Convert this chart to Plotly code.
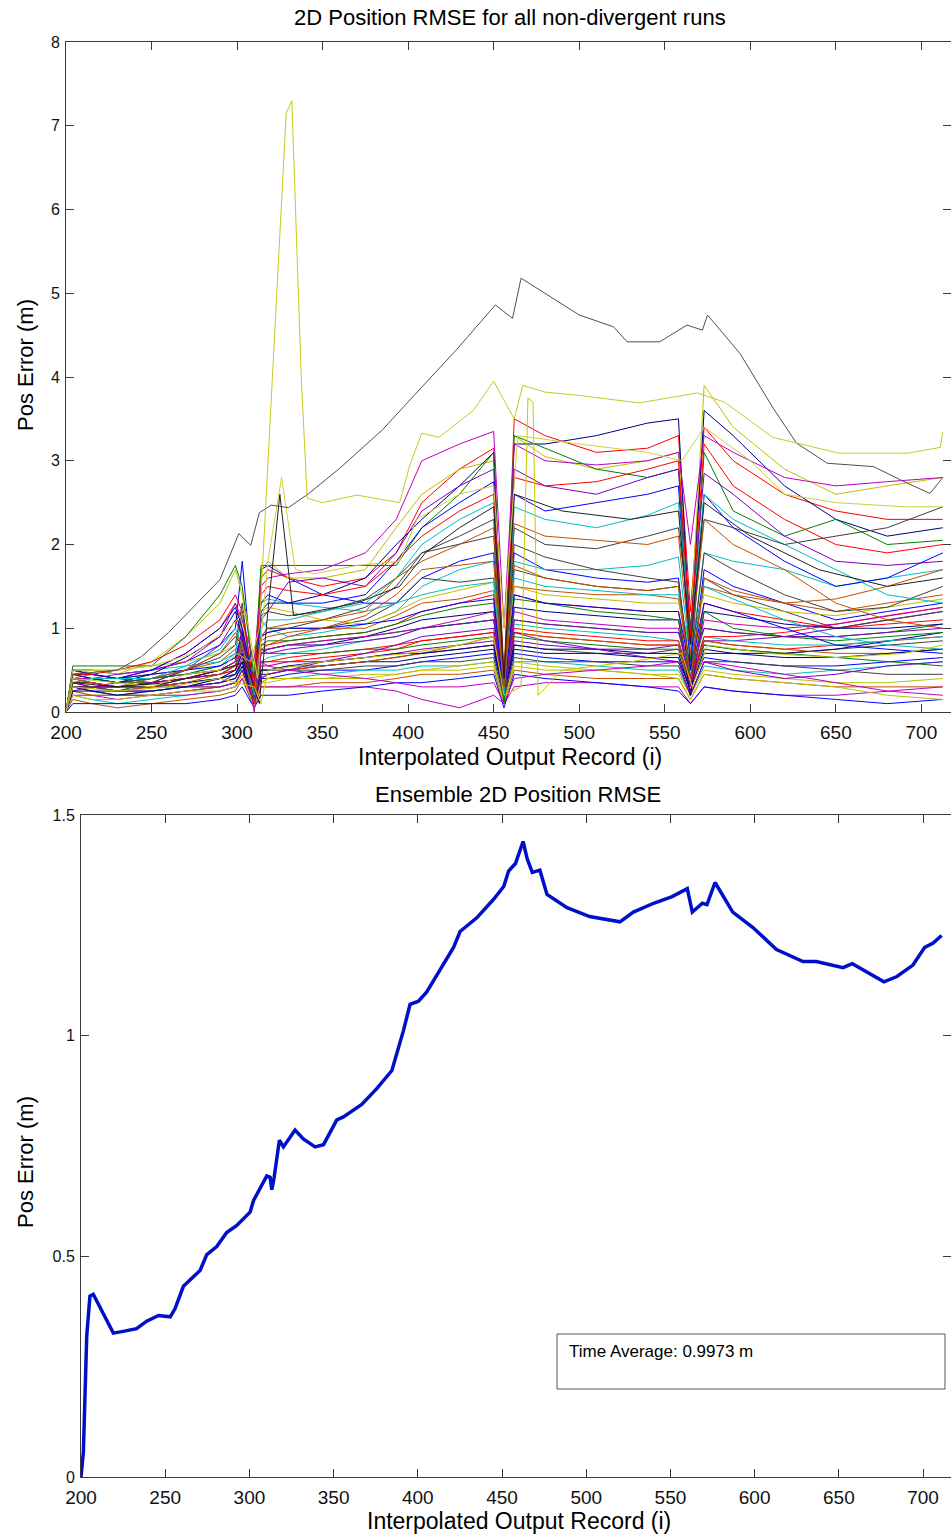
import plotly.graph_objects as go

W, H = 951, 1537

# ---------------- data: top panel (per-run 2D position RMSE) ----------------
GRID_X = [200, 204, 215, 230, 250, 270, 290, 299, 303, 310, 314, 318, 330, 350, 375, 393,
          408, 430, 450, 456, 462, 480, 510, 540, 558, 565, 573, 590, 620, 650, 680, 712.5]

HIGH_RUNS = [
    [0, 0.5, 0.45, 0.4, 0.5, 0.7, 1.0, 1.3, 1.0, 0.3, 1.6, 1.7, 1.6, 1.5, 1.6, 1.9, 2.5, 2.9, 3.15, 0.3, 3.5, 3.3, 3.1, 3.15, 3.3, 1.2, 3.4, 3.0, 2.6, 2.4, 2.3, 2.3],
    [0, 0.45, 0.5, 0.45, 0.6, 0.9, 1.3, 1.7, 1.4, 0.5, 1.7, 1.8, 1.6, 1.6, 1.7, 2.2, 2.6, 2.9, 3.0, 0.5, 3.3, 3.05, 2.9, 3.0, 3.1, 1.0, 3.9, 3.4, 2.9, 2.6, 2.7, 2.8],
    [0, 0.4, 0.4, 0.35, 0.45, 0.65, 0.9, 1.2, 0.9, 0.2, 1.2, 1.3, 1.3, 1.4, 1.6, 2.0, 2.3, 2.7, 3.1, 0.2, 3.2, 3.2, 3.3, 3.45, 3.5, 0.8, 3.6, 3.3, 2.7, 2.3, 2.1, 2.2],
    [0, 0.55, 0.55, 0.55, 0.55, 0.9, 1.4, 1.75, 1.5, 0.4, 1.75, 1.75, 1.75, 1.75, 1.75, 1.75, 2.2, 2.6, 3.1, 0.3, 3.3, 3.15, 2.9, 2.8, 2.9, 0.6, 3.1, 2.4, 2.1, 2.3, 2.0, 2.05],
    [0, 0.4, 0.4, 0.45, 0.5, 0.6, 0.9, 1.3, 1.1, 0.6, 1.5, 1.6, 1.65, 1.7, 1.9, 2.3, 3.0, 3.2, 3.35, 1.0, 3.2, 3.0, 2.95, 3.0, 3.1, 2.0, 3.3, 3.1, 2.8, 2.7, 2.75, 2.8],
    [0, 0.3, 0.3, 0.3, 0.35, 0.5, 0.8, 1.1, 0.9, 0.3, 1.1, 1.2, 1.55, 1.6, 1.5, 1.9, 2.4, 2.7, 2.9, 0.4, 2.9, 2.7, 2.6, 2.8, 2.9, 1.0, 2.85, 2.6, 2.1, 1.8, 1.75, 1.8],
    [0, 0.5, 0.45, 0.4, 0.5, 0.7, 1.0, 1.25, 1.0, 0.3, 1.3, 1.4, 1.3, 1.3, 1.4, 1.8, 2.2, 2.5, 2.75, 0.3, 2.6, 2.4, 2.5, 2.6, 2.7, 0.5, 2.6, 2.2, 1.8, 1.5, 1.6, 1.9],
    [0, 0.35, 0.4, 0.4, 0.4, 0.55, 0.75, 1.0, 0.8, 0.2, 1.0, 1.1, 1.1, 1.2, 1.3, 1.6, 2.0, 2.3, 2.5, 0.2, 2.45, 2.3, 2.2, 2.35, 2.5, 0.9, 2.6, 2.3, 2.0, 1.7, 1.4, 1.3],
    [0, 0.3, 0.3, 0.25, 0.35, 0.5, 0.7, 0.9, 0.8, 0.4, 0.9, 1.0, 1.0, 1.1, 1.25, 1.5, 1.9, 2.1, 2.3, 0.3, 2.2, 2.0, 1.95, 2.1, 2.2, 1.0, 2.3, 2.2, 2.0, 2.1, 2.2, 2.45],
    [0, 0.4, 0.35, 0.3, 0.4, 0.5, 0.7, 0.95, 0.8, 0.25, 0.9, 1.0, 1.05, 1.1, 1.2, 1.6, 1.8, 2.0, 2.2, 0.3, 2.25, 2.1, 2.05, 2.0, 2.1, 0.7, 2.3, 2.0, 1.7, 1.3, 1.1, 1.0],
    [0, 0.45, 0.45, 0.5, 0.6, 0.8, 1.1, 1.4, 1.2, 0.3, 1.4, 1.5, 1.45, 1.4, 1.5, 1.8, 2.1, 2.4, 2.6, 0.4, 2.8, 2.7, 2.75, 2.9, 3.0, 0.9, 3.2, 2.7, 2.3, 2.0, 1.9, 2.0],
]

MID_RUNS = [
    [0, 0.5, 0.5, 0.45, 0.5, 0.6, 0.8, 1.0, 1.8, 0.2, 1.7, 1.75, 1.6, 1.4, 1.3, 1.3, 1.6, 1.8, 1.9, 0.3, 1.9, 1.7, 1.6, 1.55, 1.6, 0.4, 1.7, 1.5, 1.3, 1.1, 1.2, 1.3],
    [0, 0.45, 0.4, 0.35, 0.4, 0.45, 0.55, 0.7, 1.2, 0.2, 1.1, 1.0, 0.9, 0.95, 1.05, 1.2, 1.5, 1.7, 1.8, 0.2, 1.8, 1.7, 1.7, 1.75, 1.85, 0.6, 1.9, 1.8, 1.7, 1.5, 1.6, 1.7],
    [0, 0.35, 0.35, 0.3, 0.3, 0.4, 0.5, 0.6, 0.9, 0.1, 0.9, 0.95, 1.0, 1.0, 1.1, 1.3, 1.6, 1.55, 1.6, 0.2, 1.7, 1.6, 1.5, 1.45, 1.5, 0.3, 1.6, 1.4, 1.2, 1.0, 1.1, 1.2],
    [0, 0.4, 0.45, 0.4, 0.45, 0.5, 0.6, 0.75, 0.85, 0.3, 0.85, 0.9, 0.95, 1.0, 1.0, 1.15, 1.3, 1.35, 1.45, 0.1, 1.5, 1.45, 1.4, 1.4, 1.35, 0.5, 1.5, 1.4, 1.3, 1.2, 1.3, 1.4],
    [0, 0.3, 0.3, 0.3, 0.35, 0.4, 0.5, 0.6, 1.0, 0.2, 0.8, 0.8, 0.85, 0.9, 0.95, 1.05, 1.2, 1.3, 1.4, 0.3, 1.4, 1.3, 1.25, 1.2, 1.2, 0.3, 1.3, 1.2, 1.1, 1.0, 1.05, 1.1],
    [0, 0.5, 0.5, 0.5, 0.55, 0.6, 0.7, 0.8, 1.1, 0.3, 1.2, 1.25, 1.2, 1.1, 1.05, 1.2, 1.35, 1.45, 1.55, 0.4, 1.5, 1.4, 1.35, 1.3, 1.3, 0.8, 1.4, 1.3, 1.2, 1.15, 1.25, 1.35],
    [0, 0.25, 0.25, 0.2, 0.25, 0.3, 0.4, 0.5, 0.7, 0.1, 0.7, 0.75, 0.8, 0.8, 0.9, 1.0, 1.1, 1.15, 1.2, 0.2, 1.25, 1.2, 1.15, 1.1, 1.1, 0.2, 1.2, 1.15, 1.05, 1.0, 1.0, 1.05],
    [0, 0.35, 0.4, 0.35, 0.4, 0.45, 0.55, 0.65, 0.8, 0.2, 0.8, 0.85, 0.85, 0.9, 0.95, 1.05, 1.15, 1.25, 1.3, 0.1, 1.35, 1.3, 1.2, 1.15, 1.1, 0.4, 1.2, 1.0, 0.9, 0.85, 0.9, 0.95],
    [0, 0.4, 0.35, 0.3, 0.35, 0.4, 0.5, 0.6, 0.9, 0.0, 0.7, 0.75, 0.8, 0.85, 0.9, 0.95, 1.0, 1.1, 1.2, 0.2, 1.2, 1.1, 1.05, 1.0, 1.0, 0.3, 1.1, 1.05, 1.0, 1.05, 1.15, 1.25],
    [0, 0.3, 0.3, 0.3, 0.35, 0.4, 0.45, 0.55, 0.75, 0.15, 0.75, 0.7, 0.75, 0.8, 0.85, 0.9, 1.0, 1.05, 1.1, 0.3, 1.1, 1.05, 1.0, 0.95, 0.95, 0.6, 1.0, 0.95, 0.9, 0.9, 0.95, 1.0],
    [0, 0.45, 0.4, 0.4, 0.45, 0.5, 0.55, 0.65, 0.95, 0.1, 0.9, 0.95, 1.0, 1.0, 1.05, 1.1, 1.2, 1.3, 1.35, 0.2, 1.4, 1.3, 1.25, 1.2, 1.2, 0.5, 1.3, 1.2, 1.0, 0.8, 0.75, 0.7],
    [0, 0.5, 0.5, 0.45, 0.5, 0.55, 0.6, 0.7, 1.2, 0.2, 1.3, 1.35, 1.3, 1.25, 1.2, 1.3, 1.4, 1.5, 1.55, 0.3, 1.6, 1.5, 1.45, 1.4, 1.4, 0.7, 1.5, 1.35, 1.1, 0.9, 0.8, 0.75],
    [0, 0.4, 0.4, 0.35, 0.4, 0.5, 0.65, 0.8, 1.3, 0.2, 1.15, 1.2, 1.15, 1.2, 1.35, 1.6, 1.9, 2.0, 2.1, 0.3, 2.0, 1.85, 1.7, 1.6, 1.55, 0.5, 1.9, 1.7, 1.4, 1.2, 1.25, 1.5],
    [0, 0.3, 0.3, 0.25, 0.3, 0.35, 0.45, 0.55, 0.8, 0.1, 0.75, 0.8, 0.9, 1.0, 1.15, 1.4, 1.7, 1.75, 1.8, 0.2, 1.75, 1.6, 1.5, 1.45, 1.5, 0.4, 1.6, 1.45, 1.3, 1.35, 1.5, 1.7],
]

LOW_RUNS = [
    [0, 0.3, 0.25, 0.2, 0.2, 0.25, 0.3, 0.35, 0.5, 0.1, 0.4, 0.4, 0.45, 0.5, 0.5, 0.55, 0.6, 0.65, 0.7, 0.2, 0.7, 0.65, 0.6, 0.6, 0.6, 0.3, 0.65, 0.6, 0.55, 0.55, 0.6, 0.65],
    [0, 0.2, 0.15, 0.1, 0.15, 0.2, 0.25, 0.3, 0.55, 0.05, 0.35, 0.4, 0.4, 0.45, 0.5, 0.5, 0.55, 0.55, 0.6, 0.1, 0.6, 0.6, 0.55, 0.5, 0.5, 0.2, 0.55, 0.5, 0.45, 0.5, 0.55, 0.6],
    [0, 0.4, 0.35, 0.3, 0.3, 0.3, 0.35, 0.4, 0.6, 0.2, 0.5, 0.5, 0.55, 0.55, 0.6, 0.65, 0.7, 0.75, 0.8, 0.3, 0.8, 0.75, 0.7, 0.7, 0.75, 0.4, 0.8, 0.75, 0.7, 0.75, 0.8, 0.85],
    [0, 0.15, 0.1, 0.05, 0.1, 0.15, 0.2, 0.25, 0.4, 0.05, 0.3, 0.3, 0.3, 0.35, 0.35, 0.4, 0.45, 0.45, 0.5, 0.1, 0.5, 0.45, 0.4, 0.4, 0.4, 0.15, 0.45, 0.4, 0.35, 0.3, 0.3, 0.3],
    [0, 0.35, 0.3, 0.3, 0.35, 0.4, 0.45, 0.5, 0.7, 0.15, 0.6, 0.6, 0.65, 0.7, 0.75, 0.8, 0.85, 0.9, 0.95, 0.2, 0.95, 0.9, 0.85, 0.8, 0.8, 0.3, 0.85, 0.8, 0.75, 0.8, 0.85, 0.9],
    [0, 0.25, 0.2, 0.2, 0.25, 0.3, 0.3, 0.35, 0.45, 0.1, 0.35, 0.35, 0.4, 0.4, 0.45, 0.45, 0.5, 0.5, 0.55, 0.1, 0.55, 0.5, 0.5, 0.45, 0.45, 0.2, 0.5, 0.45, 0.4, 0.35, 0.35, 0.4],
    [0, 0.3, 0.3, 0.25, 0.25, 0.3, 0.35, 0.4, 0.55, 0.1, 0.45, 0.45, 0.5, 0.55, 0.6, 0.6, 0.65, 0.7, 0.75, 0.2, 0.75, 0.7, 0.7, 0.65, 0.65, 0.25, 0.7, 0.7, 0.7, 0.75, 0.85, 0.95],
    [0, 0.45, 0.4, 0.35, 0.35, 0.4, 0.45, 0.55, 0.8, 0.2, 0.7, 0.7, 0.7, 0.7, 0.75, 0.75, 0.8, 0.85, 0.9, 0.2, 0.9, 0.85, 0.8, 0.75, 0.75, 0.3, 0.8, 0.75, 0.7, 0.65, 0.6, 0.55],
    [0, 0.2, 0.2, 0.15, 0.2, 0.2, 0.25, 0.3, 0.4, 0.05, 0.3, 0.3, 0.3, 0.3, 0.3, 0.25, 0.15, 0.05, 0.2, 0.1, 0.3, 0.35, 0.35, 0.3, 0.3, 0.1, 0.3, 0.25, 0.2, 0.2, 0.25, 0.3],
    [0, 0.35, 0.3, 0.25, 0.25, 0.3, 0.35, 0.45, 0.65, 0.1, 0.55, 0.55, 0.6, 0.6, 0.65, 0.7, 0.75, 0.8, 0.85, 0.15, 0.85, 0.8, 0.75, 0.75, 0.8, 0.35, 0.85, 0.85, 0.9, 1.0, 1.1, 1.2],
    [0, 0.1, 0.1, 0.1, 0.1, 0.1, 0.15, 0.2, 0.3, 0.05, 0.2, 0.2, 0.2, 0.25, 0.3, 0.35, 0.35, 0.4, 0.45, 0.05, 0.45, 0.4, 0.35, 0.3, 0.25, 0.1, 0.3, 0.25, 0.2, 0.15, 0.1, 0.15],
    [0, 0.3, 0.25, 0.2, 0.25, 0.3, 0.4, 0.5, 0.75, 0.15, 0.6, 0.65, 0.7, 0.75, 0.85, 0.9, 1.0, 1.05, 1.1, 0.2, 1.05, 1.0, 0.95, 0.9, 0.85, 0.4, 0.9, 0.85, 0.8, 0.8, 0.85, 0.9],
    [0, 0.4, 0.35, 0.3, 0.3, 0.35, 0.4, 0.45, 0.6, 0.1, 0.5, 0.5, 0.5, 0.5, 0.55, 0.55, 0.6, 0.6, 0.65, 0.15, 0.65, 0.6, 0.6, 0.55, 0.55, 0.2, 0.6, 0.6, 0.55, 0.5, 0.45, 0.45],
    [0, 0.25, 0.2, 0.2, 0.2, 0.25, 0.3, 0.35, 0.5, 0.1, 0.4, 0.45, 0.5, 0.55, 0.6, 0.65, 0.7, 0.8, 0.9, 0.15, 0.95, 0.9, 0.85, 0.8, 0.8, 0.25, 0.85, 0.8, 0.75, 0.7, 0.7, 0.75],
    [0, 0.35, 0.35, 0.3, 0.35, 0.4, 0.45, 0.5, 0.7, 0.15, 0.6, 0.6, 0.6, 0.65, 0.7, 0.75, 0.85, 0.9, 0.95, 0.3, 1.0, 0.95, 0.9, 0.85, 0.85, 0.35, 0.9, 0.9, 0.95, 1.05, 1.15, 1.25],
    [0, 0.2, 0.15, 0.15, 0.2, 0.25, 0.25, 0.3, 0.45, 0.05, 0.35, 0.4, 0.4, 0.4, 0.4, 0.45, 0.5, 0.55, 0.6, 0.1, 0.6, 0.55, 0.5, 0.45, 0.4, 0.15, 0.45, 0.4, 0.35, 0.3, 0.2, 0.15],
    [0, 0.3, 0.25, 0.25, 0.3, 0.35, 0.4, 0.45, 0.6, 0.1, 0.5, 0.5, 0.55, 0.6, 0.65, 0.7, 0.7, 0.75, 0.8, 0.2, 0.8, 0.75, 0.75, 0.7, 0.7, 0.25, 0.75, 0.7, 0.65, 0.65, 0.7, 0.75],
    [0, 0.45, 0.45, 0.4, 0.4, 0.45, 0.5, 0.55, 0.85, 0.2, 0.75, 0.75, 0.8, 0.85, 0.9, 0.95, 1.0, 1.05, 1.1, 0.25, 1.1, 1.05, 1.0, 0.95, 0.95, 0.4, 1.0, 0.95, 0.9, 0.9, 0.95, 1.05],
    [0, 0.25, 0.3, 0.35, 0.4, 0.45, 0.5, 0.6, 0.7, 0.1, 0.6, 0.55, 0.5, 0.45, 0.4, 0.35, 0.3, 0.3, 0.35, 0.1, 0.4, 0.45, 0.5, 0.55, 0.6, 0.2, 0.6, 0.55, 0.45, 0.35, 0.25, 0.2],
    [0, 0.5, 0.45, 0.4, 0.35, 0.3, 0.3, 0.35, 0.5, 0.1, 0.4, 0.45, 0.5, 0.6, 0.7, 0.8, 0.9, 0.95, 1.0, 0.2, 0.95, 0.85, 0.75, 0.65, 0.6, 0.2, 0.6, 0.5, 0.4, 0.45, 0.55, 0.6],
]

# distinctive individual runs
TOP_RUN_X = [200, 204, 230, 244, 260, 274, 290, 301, 308, 313, 320, 330, 342, 360, 385, 408, 428, 451,
             461, 466, 477, 500, 520, 528, 547, 563, 572, 575, 594, 613, 627, 645, 672, 692, 705, 712.5]
TOP_RUN_Y = [0, 0.45, 0.5, 0.66, 0.95, 1.25, 1.58, 2.13, 1.99, 2.38, 2.47, 2.44, 2.61, 2.91, 3.37, 3.88, 4.32, 4.86,
             4.7, 5.18, 5.04, 4.74, 4.6, 4.42, 4.42, 4.62, 4.56, 4.74, 4.28, 3.64, 3.21, 2.97, 2.93, 2.73, 2.61, 2.8]

SPIKE_RUN_X = [200, 204, 230, 250, 270, 290, 300, 308, 313, 320.5, 328.7, 332, 337.5, 341, 350, 370, 395,
               401, 408, 418, 438, 450, 462, 467, 480, 500, 535, 569, 585, 613, 652, 692, 711, 712.5]
SPIKE_RUN_Y = [0, 0.4, 0.35, 0.3, 0.45, 0.5, 0.7, 0.6, 1.0, 4.0, 7.15, 7.3, 4.0, 2.55, 2.5, 2.59, 2.5,
               2.95, 3.33, 3.28, 3.6, 3.95, 3.5, 3.9, 3.82, 3.78, 3.69, 3.81, 3.7, 3.28, 3.09, 3.09, 3.16, 3.34]

YEL2_X = [200, 204, 230, 250, 275, 295, 305, 312, 318, 326, 334, 345, 370, 395, 405, 430, 450, 456, 464,
          500, 540, 560, 573, 600, 620, 650, 690, 712.5]
YEL2_Y = [0, 0.5, 0.5, 0.55, 0.7, 1.0, 1.2, 0.4, 1.8, 2.8, 1.7, 1.65, 1.75, 1.8, 2.3, 2.6, 2.7, 1.0, 3.3,
          3.2, 3.1, 3.0, 3.4, 3.0, 2.6, 2.5, 2.45, 2.45]

YEL3_X = [200, 204, 230, 260, 290, 310, 314, 318, 350, 400, 430, 450, 456, 466, 470, 473, 476, 490, 530,
          560, 566, 575, 610, 650, 690, 712.5]
YEL3_Y = [0, 0.3, 0.25, 0.3, 0.4, 0.3, 0.1, 0.5, 0.6, 0.7, 0.8, 0.9, 0.2, 0.3, 3.75, 3.7, 0.2, 0.5, 0.6,
          0.7, 0.3, 0.8, 0.7, 0.65, 0.7, 0.8]

DARK_X = [200, 204, 230, 260, 290, 305, 313, 318, 325, 333, 345, 370, 395, 410, 430, 450, 456, 462, 490,
          530, 558, 565, 573, 600, 640, 680, 712.5]
DARK_Y = [0, 0.35, 0.3, 0.35, 0.5, 0.6, 0.1, 1.2, 2.6, 1.15, 1.2, 1.3, 1.5, 1.9, 2.2, 2.45, 0.4, 2.6, 2.4,
          2.3, 2.4, 0.8, 2.5, 2.1, 1.7, 1.5, 1.6]

# ---------------- data: bottom panel (ensemble RMSE) ----------------
ENS_X = [200, 201.4, 203.4, 205.3, 207.3, 213.3, 219.2, 225, 233, 239, 246, 253, 255.8, 260.8, 270.7,
         274.7, 280.6, 286.5, 292.5, 300.4, 302.4, 310.3, 312.3, 313.3, 314.7, 317.8, 320.2, 327.1, 332,
         339, 344, 351.9, 355.8, 366.7, 375.6, 384.6, 391.5, 395.4, 400.4, 405.3, 413.3, 421.2, 425.1,
         435, 445, 451, 453.9, 458, 462.5, 465, 468, 472.5, 476.7, 488.6, 502, 520, 528, 540, 551, 560,
         563, 569, 571.7, 576.5, 587, 599, 613, 628.7, 636.6, 652.5, 658, 666.7, 676.8, 684.5, 694, 701,
         706, 711]
ENS_Y = [0.0, 0.056, 0.32, 0.41, 0.414, 0.371, 0.326, 0.33, 0.336, 0.353, 0.366, 0.363, 0.381, 0.432,
         0.468, 0.504, 0.522, 0.554, 0.57, 0.60, 0.626, 0.682, 0.679, 0.651, 0.679, 0.763, 0.748, 0.786,
         0.766, 0.748, 0.753, 0.809, 0.816, 0.844, 0.88, 0.921, 1.012, 1.071, 1.078, 1.099, 1.15, 1.2,
         1.236, 1.267, 1.309, 1.338, 1.373, 1.39, 1.44, 1.40, 1.37, 1.375, 1.32, 1.29, 1.27, 1.258, 1.28,
         1.30, 1.315, 1.333, 1.28, 1.30, 1.297, 1.347, 1.28, 1.245, 1.195, 1.168, 1.168, 1.154, 1.163,
         1.145, 1.122, 1.134, 1.16, 1.20, 1.21, 1.227]

TIME_AVG = 0.9973
X_TICKS = [200, 250, 300, 350, 400, 450, 500, 550, 600, 650, 700]

# ---------------- styling ----------------
PALETTE = ["#0000FF", "#008000", "#FF0000", "#00BFBF", "#BF00BF", "#BFBF00", "#404040", "#7F00BF", "#00007F", "#C05000"]
FONT = "Liberation Sans, Arial, sans-serif"
AX = "#3a3a3a"


def px(x):
    return x / W


def py(y):
    return 1 - y / H


fig = go.Figure()

k = 0
for group in (LOW_RUNS, MID_RUNS, HIGH_RUNS):
    for run in group:
        fig.add_trace(go.Scatter(x=GRID_X, y=run, mode="lines",
                                 line=dict(color=PALETTE[k % len(PALETTE)], width=1),
                                 xaxis="x", yaxis="y", showlegend=False, hoverinfo="skip"))
        k += 3

for xs, ys, col in [(DARK_X, DARK_Y, "#202020"), (YEL3_X, YEL3_Y, "#C8C800"),
                    (YEL2_X, YEL2_Y, "#CFCF40"), (TOP_RUN_X, TOP_RUN_Y, "#505050"),
                    (SPIKE_RUN_X, SPIKE_RUN_Y, "#C8C820")]:
    fig.add_trace(go.Scatter(x=xs, y=ys, mode="lines", line=dict(color=col, width=1),
                             xaxis="x", yaxis="y", showlegend=False, hoverinfo="skip"))

fig.add_trace(go.Scatter(x=ENS_X, y=ENS_Y, mode="lines", line=dict(color="#0010C8", width=3.5),
                         xaxis="x2", yaxis="y2", showlegend=False, hoverinfo="skip"))

axis_common = dict(showgrid=False, zeroline=False, showline=True, linecolor=AX, linewidth=1,
                   mirror="ticks", ticks="inside", ticklen=8, tickcolor=AX, automargin=False,
                   tickfont=dict(family=FONT, size=19, color="#111"))

fig.update_layout(
    template="none",
    width=W, height=H, margin=dict(l=0, r=0, t=0, b=0, pad=0),
    paper_bgcolor="white", plot_bgcolor="white",
    xaxis=dict(domain=[px(66), 1.0], range=[200, 717.3], tickvals=X_TICKS, anchor="y", **axis_common),
    yaxis=dict(domain=[py(712), py(42)], range=[0, 8], tickvals=list(range(0, 9)), anchor="x", **axis_common),
    xaxis2=dict(domain=[px(81), 1.0], range=[200, 716.6], tickvals=X_TICKS, anchor="y2", **axis_common),
    yaxis2=dict(domain=[py(1477), py(815)], range=[0, 1.5], tickvals=[0, 0.5, 1, 1.5],
                ticktext=["0", "0.5", "1", "1.5"], anchor="x2", **axis_common),
)
fig.update_yaxes(tickfont=dict(family=FONT, size=16, color="#111"), ticklabelstandoff=2)
fig.update_xaxes(ticklabelstandoff=3)

ann = [
    ("2D Position RMSE for all non-divergent runs", 510, 18, 22, 0),
    ("Interpolated Output Record (i)", 510, 757, 23, 0),
    ("Ensemble 2D Position RMSE", 518, 794, 22, 0),
    ("Interpolated Output Record (i)", 519, 1521, 23, 0),
    ("Pos Error (m)", 25, 365, 22, -90),
    ("Pos Error (m)", 25, 1162, 22, -90),
]
for text, x, y, size, ang in ann:
    fig.add_annotation(text=text, x=px(x), y=py(y), xref="paper", yref="paper", showarrow=False,
                       textangle=ang, font=dict(family=FONT, size=size, color="#000"),
                       xanchor="center", yanchor="middle")

fig.add_shape(type="rect", xref="paper", yref="paper", x0=px(557), x1=px(945), y0=py(1389), y1=py(1334),
              line=dict(color="#555", width=1), fillcolor="white")
fig.add_annotation(text=f"Time Average: {TIME_AVG:.4f} m", x=px(567), y=py(1351), xref="paper", yref="paper",
                   showarrow=False, xanchor="left", yanchor="middle",
                   font=dict(family=FONT, size=17, color="#000"))

fig.write_html("out.html", config={"displayModeBar": False},
               post_script="document.body.style.margin='0';document.body.style.overflow='hidden';")
